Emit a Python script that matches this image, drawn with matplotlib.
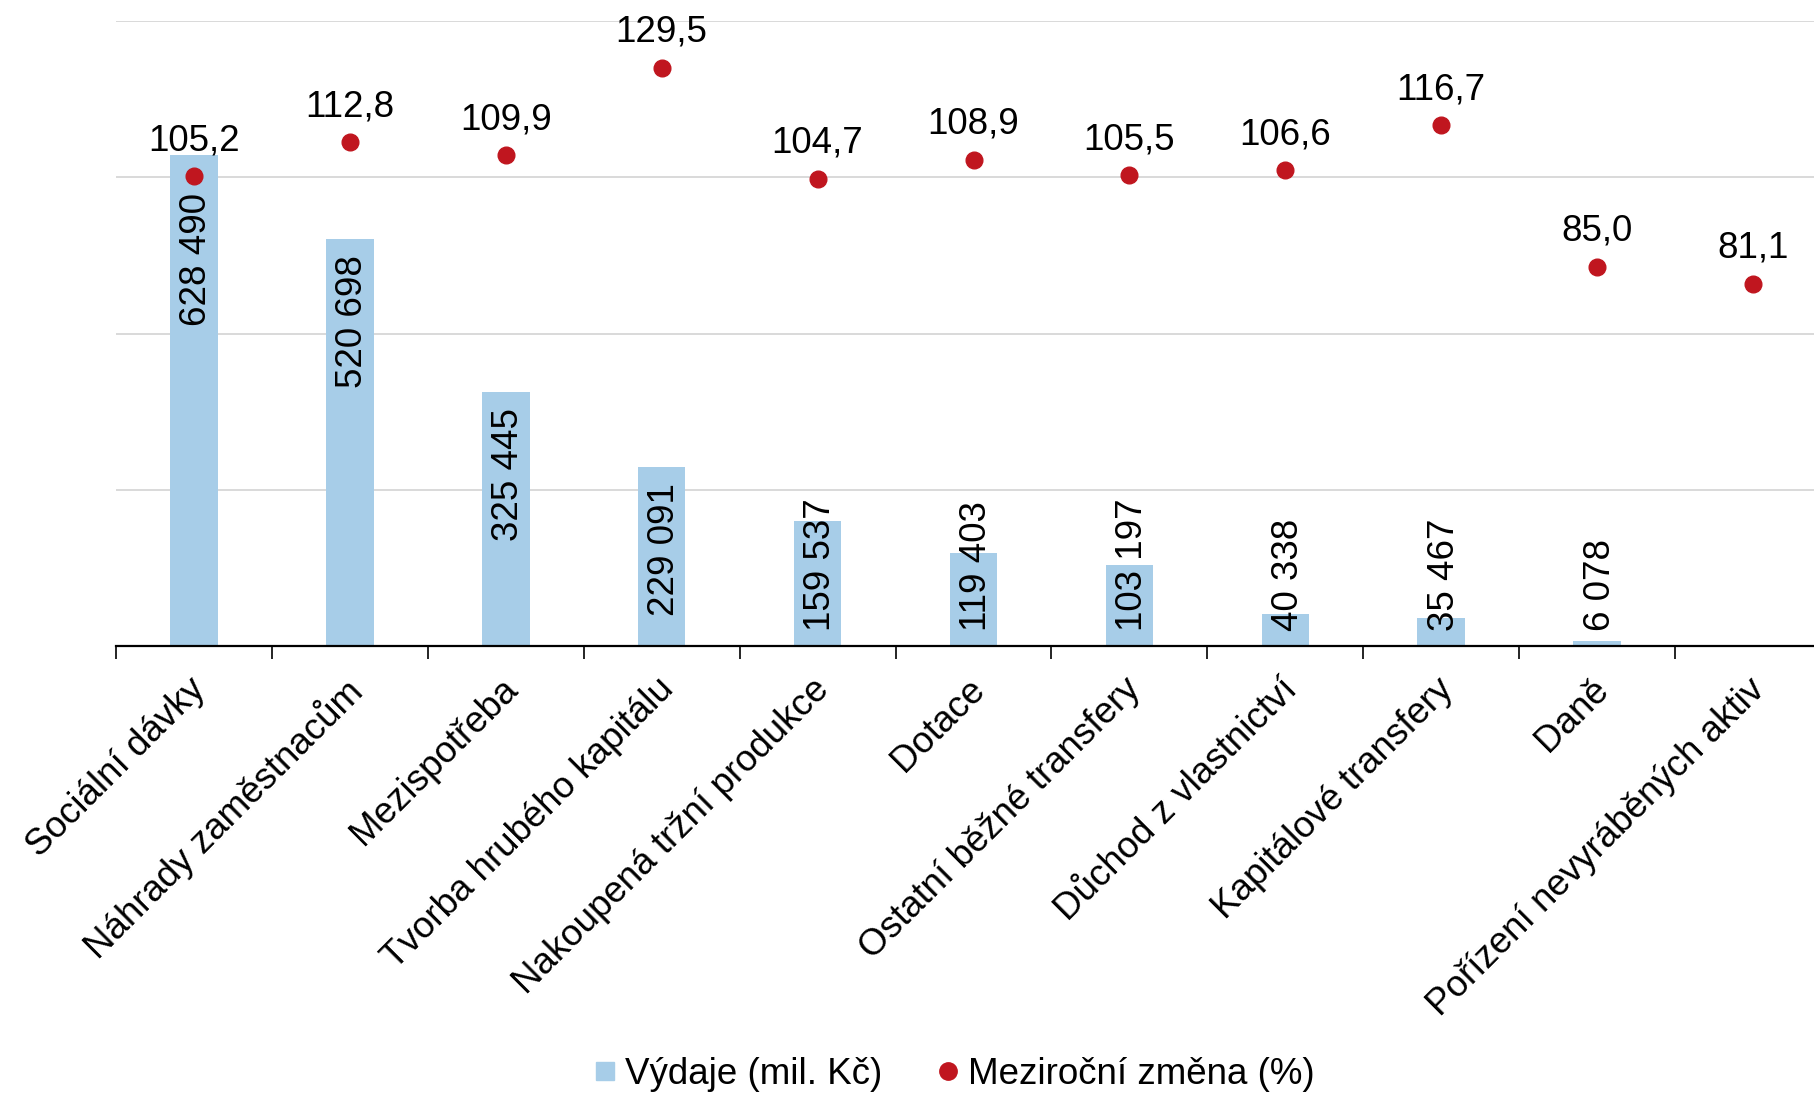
import matplotlib
matplotlib.use("Agg")
import matplotlib.pyplot as plt
from matplotlib.lines import Line2D
import matplotlib.transforms as mtransforms

plt.rcParams['font.family'] = ['Liberation Sans', 'DejaVu Sans']

categories = ["Sociální dávky", "Náhrady zaměstnacům", "Mezispotřeba",
              "Tvorba hrubého kapitálu", "Nakoupená tržní produkce", "Dotace",
              "Ostatní běžné transfery", "Důchod z vlastnictví",
              "Kapitálové transfery", "Daně", "Pořízení nevyráběných aktiv"]
vydaje = [628490, 520698, 325445, 229091, 159537, 119403, 103197, 40338, 35467, 6078, 600]
vydaje_labels = ["628 490", "520 698", "325 445", "229 091", "159 537", "119 403",
                 "103 197", "40 338", "35 467", "6 078", ""]
zmena = [105.2, 112.8, 109.9, 129.5, 104.7, 108.9, 105.5, 106.6, 116.7, 85.0, 81.1]
zmena_labels = ["105,2", "112,8", "109,9", "129,5", "104,7", "108,9", "105,5",
                "106,6", "116,7", "85,0", "81,1"]
# extra downward shift (pixels) of bar labels, style only
label_shift = [22, 0, 0, 0, 0, 0, 0, 0, 0, 0, 0]

BAR_C = '#A7CDE8'
DOT_C = '#C0161F'
FS = 26.5

W, H = 1814, 1096
fig = plt.figure(figsize=(W / 100, H / 100), dpi=100)
ax = fig.add_axes([116 / W, 1 - 646 / H, 1715 / W, (646 - 21) / H])

x = list(range(len(categories)))
ax.bar(x, vydaje, width=0.305, color=BAR_C, zorder=2)
ax.set_xlim(-0.5, len(categories) - 0.5)
ax.set_ylim(0, 800000)
ax.set_yticks([0, 200000, 400000, 600000, 800000])
ax.yaxis.set_tick_params(length=0, labelleft=False)
ax.grid(axis='y', color='#D9D9D9', linewidth=1.4, zorder=0)
ax.set_axisbelow(True)
for s in ['left', 'right', 'top']:
    ax.spines[s].set_visible(False)
ax.spines['bottom'].set_linewidth(1.6)
ax.spines['bottom'].set_zorder(5)

# category boundary ticks
ax.set_xticks([i - 0.5 for i in range(len(categories) + 1)])
ax.set_xticklabels([])
ax.tick_params(axis='x', which='major', length=9, width=1.2, direction='out')
ax.set_xticks(x, minor=True)
ax.set_xticklabels(categories, minor=True, rotation=45, ha='right', va='top',
                   rotation_mode='anchor', fontsize=FS)
ax.tick_params(axis='x', which='minor', length=0, pad=20)
shift = mtransforms.ScaledTranslation(-6 / 100, 2 / 100, fig.dpi_scale_trans)
for lbl in ax.get_xticklabels(minor=True):
    lbl.set_transform(lbl.get_transform() + shift)

ax2 = ax.twinx()
ax2.set_ylim(0, 140)
ax2.set_yticks([])
for s in ax2.spines.values():
    s.set_visible(False)
ax2.plot(x, zmena, 'o', color=DOT_C, markersize=12, zorder=6)
for xi, v, lab in zip(x, zmena, zmena_labels):
    ax2.annotate(lab, (xi, v), xytext=(0, 26), textcoords='offset pixels',
                 ha='center', va='baseline', fontsize=FS, zorder=7)

# bar value labels (rotated), inside end, clamped above base
fig.canvas.draw()
renderer = fig.canvas.get_renderer()
axis_px = ax.transData.transform((0, 0))[1]
for xi, v, lab, sh in zip(x, vydaje, vydaje_labels, label_shift):
    if not lab:
        continue
    t = ax.annotate(lab, (xi, v), xytext=(3, -16 - sh), textcoords='offset pixels',
                    ha='center', va='top', rotation=90, fontsize=FS, zorder=4)
    bb = t.get_window_extent(renderer)
    if bb.y0 < axis_px + 15:
        t.remove()
        ax.annotate(lab, (xi, 0), xytext=(3, 15), textcoords='offset pixels',
                    ha='center', va='bottom', rotation=90, fontsize=FS, zorder=4)

handles = [Line2D([], [], linestyle='none', marker='s', markersize=13.5,
                  markerfacecolor=BAR_C, markeredgecolor=BAR_C),
           Line2D([], [], linestyle='none', marker='o', markersize=12.5,
                  markerfacecolor=DOT_C, markeredgecolor=DOT_C)]
fig.legend(handles, ["Výdaje (mil. Kč)", "Meziroční změna (%)"], loc='center',
           bbox_to_anchor=(0.526, 0.02), ncol=2, frameon=False, fontsize=FS,
           handlelength=0.6, handletextpad=0.23, columnspacing=1.5,
           borderpad=0, borderaxespad=0)

fig.savefig("out.png", dpi=100)
